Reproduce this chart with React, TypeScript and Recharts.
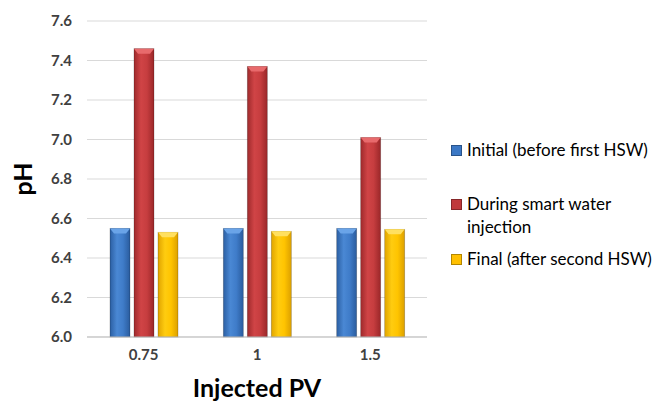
import React from "react";
import { BarChart, Bar, XAxis, YAxis, CartesianGrid, Label } from "recharts";

const categories = ["0.75", "1", "1.5"];
const initialPH = [6.55, 6.55, 6.55];
const duringPH = [7.46, 7.37, 7.01];
const finalPH = [6.53, 6.535, 6.545];
const yTicks = [6.0, 6.2, 6.4, 6.6, 6.8, 7.0, 7.2, 7.4, 7.6];

const seriesNames = [
  "Initial (before first HSW)",
  "During smart water injection",
  "Final (after second HSW)",
];

const data = categories.map((c, i) => ({
  pv: c,
  initial: initialPH[i],
  during: duringPH[i],
  final: finalPH[i],
}));

const FONT = "Lato, 'Open Sans', sans-serif";

const Bar3D = (props: any) => {
  const { x, y, width, height, gid, cap } = props;
  if (!height || height <= 0) return null;
  const capH = 5;
  return (
    <g>
      <rect x={x} y={y} width={width} height={height} fill={`url(#${gid})`} stroke="rgba(0,0,0,0.25)" strokeWidth={0.8} />
      <polygon
        points={`${x},${y} ${x + width},${y} ${x + width - 4},${y + capH} ${x + 4},${y + capH}`}
        fill={cap}
      />
    </g>
  );
};

const legendItems = [
  { name: seriesNames[0], color: "#3b78c5", top: 138 },
  { name: seriesNames[1], color: "#c0393b", top: 192 },
  { name: seriesNames[2], color: "#ffc000", top: 247 },
];

export default function App() {
  return (
    <div style={{ position: "absolute", left: 0, top: 0, width: 654, height: 401, background: "#fff", fontFamily: FONT }}>
      <BarChart
        width={654}
        height={401}
        data={data}
        margin={{ top: 21, right: 227, bottom: 0, left: 0 }}
        barSize={20}
        barGap={4}
      >
        <defs>
          <linearGradient id="gBlue" x1="0" y1="0" x2="1" y2="0">
            <stop offset="0" stopColor="#2b5fa3" />
            <stop offset="0.35" stopColor="#4a88d4" />
            <stop offset="0.65" stopColor="#3f7cc9" />
            <stop offset="1" stopColor="#2a5c9e" />
          </linearGradient>
          <linearGradient id="gRed" x1="0" y1="0" x2="1" y2="0">
            <stop offset="0" stopColor="#9e2a2c" />
            <stop offset="0.35" stopColor="#d04446" />
            <stop offset="0.65" stopColor="#c63d3f" />
            <stop offset="1" stopColor="#9a2729" />
          </linearGradient>
          <linearGradient id="gYellow" x1="0" y1="0" x2="1" y2="0">
            <stop offset="0" stopColor="#e0a400" />
            <stop offset="0.35" stopColor="#ffcc10" />
            <stop offset="0.65" stopColor="#ffc400" />
            <stop offset="1" stopColor="#dca000" />
          </linearGradient>
        </defs>
        <CartesianGrid vertical={false} stroke="#d9d9d9" strokeWidth={1} />
        <XAxis
          dataKey="pv"
          height={64}
          axisLine={{ stroke: "#bfbfbf" }}
          tickLine={false}
          tick={{ fill: "#404040", fontSize: 15, fontWeight: 700, fontFamily: FONT }}
          tickMargin={6}
        >
          <Label value="Injected PV" position="insideBottom" offset={4} style={{ fill: "#000", fontSize: 25, fontWeight: 700, fontFamily: FONT }} />
        </XAxis>
        <YAxis
          width={87}
          domain={[6.0, 7.6]}
          ticks={yTicks}
          tickFormatter={(v: number) => v.toFixed(1)}
          axisLine={false}
          tickLine={false}
          tick={{ fill: "#404040", fontSize: 15, fontWeight: 700, fontFamily: FONT }}
          tickMargin={9}
          interval={0}
        >
          <Label value="pH" angle={-90} position="insideLeft" offset={23} style={{ fill: "#000", fontSize: 25, fontWeight: 700, fontFamily: FONT, textAnchor: "middle" }} />
        </YAxis>
        <Bar dataKey="initial" name={seriesNames[0]} isAnimationActive={false} shape={(p: any) => <Bar3D {...p} gid="gBlue" cap="#6aa4e8" />} />
        <Bar dataKey="during" name={seriesNames[1]} isAnimationActive={false} shape={(p: any) => <Bar3D {...p} gid="gRed" cap="#e86a6c" />} />
        <Bar dataKey="final" name={seriesNames[2]} isAnimationActive={false} shape={(p: any) => <Bar3D {...p} gid="gYellow" cap="#ffe060" />} />
      </BarChart>
      {legendItems.map((it) => (
        <div key={it.name} style={{ position: "absolute", left: 451, top: it.top, width: 203, display: "flex", alignItems: "flex-start", fontSize: 17, color: "#000", lineHeight: "23px" }}>
          <div style={{ width: 9, height: 9, background: it.color, border: "1px solid rgba(0,0,0,0.3)", marginTop: 7, marginRight: 5, flexShrink: 0 }} />
          <div style={{ width: 190 }}>{it.name}</div>
        </div>
      ))}
    </div>
  );
}
